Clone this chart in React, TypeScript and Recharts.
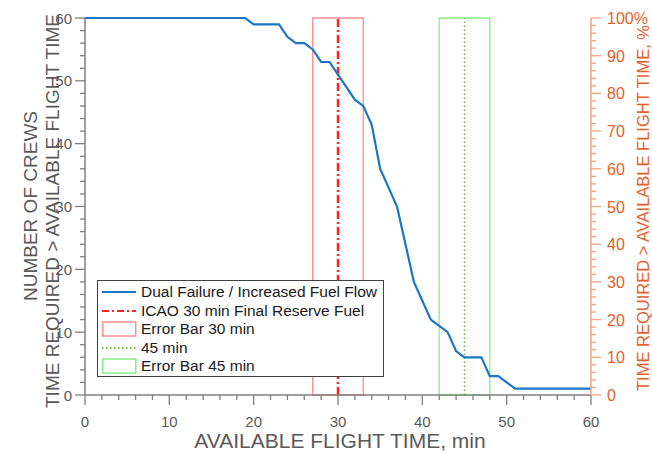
import { ComposedChart, Line, XAxis, YAxis, ReferenceLine, ReferenceArea, Legend } from 'recharts';

const FONT = '"Liberation Sans", Arial, sans-serif';
const TEXT = '#595959';
const AXIS = '#7f7f7f';
const ORANGE = '#e3612a';
const ORANGE_AXIS = '#f2a27e';
const BLUE = '#1c75c6';
const RED = '#ff2222';
const RED_BOX = '#ff8f8f';
const GREEN_DOT = '#78b83a';
const GREEN_BOX = '#86f086';

// available flight time, min
const minutes = [
  0, 1, 2, 3, 4, 5, 6, 7, 8, 9, 10, 11, 12, 13, 14, 15, 16, 17, 18, 19, 20,
  21, 22, 23, 24, 25, 26, 27, 28, 29, 30, 31, 32, 33, 34, 35, 36, 37, 38, 39, 40,
  41, 42, 43, 44, 45, 46, 47, 48, 49, 50, 51, 52, 53, 54, 55, 56, 57, 58, 59, 60,
];
// number of crews with time required > available
const crews = [
  60, 60, 60, 60, 60, 60, 60, 60, 60, 60, 60, 60, 60, 60, 60, 60, 60, 60, 60, 60, 59,
  59, 59, 59, 57, 56, 56, 55, 53, 53, 51, 49, 47, 46, 43, 36, 33, 30, 24, 18, 15,
  12, 11, 10, 7, 6, 6, 6, 3, 3, 2, 1, 1, 1, 1, 1, 1, 1, 1, 1, 1,
];

const xMajor = [0, 10, 20, 30, 40, 50, 60];
const leftMajor = [0, 10, 20, 30, 40, 50, 60];
const rightMajor = [0, 10, 20, 30, 40, 50, 60, 70, 80, 90, 100];
const xTicks = Array.from({ length: 31 }, (_, i) => i * 2);
const leftTicks = Array.from({ length: 31 }, (_, i) => i * 2);
const rightTicks = Array.from({ length: 51 }, (_, i) => i * 2);

const legendItems = [
  { name: 'Dual Failure / Increased Fuel Flow', kind: 'line', color: BLUE, dash: '' },
  { name: 'ICAO 30 min Final Reserve Fuel', kind: 'line', color: RED, dash: '7 3 2 3' },
  { name: 'Error Bar 30 min', kind: 'box', color: RED_BOX, dash: '' },
  { name: '45 min', kind: 'line', color: GREEN_DOT, dash: '1.5 2.5' },
  { name: 'Error Bar 45 min', kind: 'box', color: GREEN_BOX, dash: '' },
];

const data = minutes.map((m, i) => ({ m, crews: crews[i] }));

function BottomTick({ x, y, payload }: any) {
  const major = xMajor.includes(payload.value);
  return (
    <g>
      <line x1={x} x2={x} y1={y} y2={y + (major ? 10 : 5)} stroke={AXIS} strokeWidth={1.3} />
      {major && (
        <text x={x} y={y + 32} textAnchor="middle" fontSize={15} fill={TEXT} fontFamily={FONT}>
          {payload.value}
        </text>
      )}
    </g>
  );
}

function LeftTick({ x, y, payload }: any) {
  const major = leftMajor.includes(payload.value);
  return (
    <g>
      <line x1={x - (major ? 10 : 5)} x2={x} y1={y} y2={y} stroke={AXIS} strokeWidth={1.3} />
      {major && (
        <text x={x - 13} y={y + 5.5} textAnchor="end" fontSize={15} fill={TEXT} fontFamily={FONT}>
          {payload.value}
        </text>
      )}
    </g>
  );
}

function RightTick({ x, y, payload }: any) {
  const major = rightMajor.includes(payload.value);
  return (
    <g>
      <line x1={x} x2={x + (major ? 10 : 5)} y1={y} y2={y} stroke={ORANGE_AXIS} strokeWidth={1.3} />
      {major && (
        <text x={x + 16} y={y + 6} textAnchor="start" fontSize={16} fill={ORANGE} fontFamily={FONT}>
          {payload.value === 100 ? '100%' : payload.value}
        </text>
      )}
    </g>
  );
}

function LeftTitle() {
  return (
    <g fontFamily={FONT} fill={TEXT} fontSize={19}>
      <text transform="translate(37,206) rotate(-90)" textAnchor="middle">NUMBER OF CREWS</text>
      <text transform="translate(59,211) rotate(-90)" textAnchor="middle">
        TIME REQUIRED &gt; AVAILABLE FLIGHT TIME
      </text>
    </g>
  );
}

function RightTitle() {
  return (
    <text
      transform="translate(649,208) rotate(-90)"
      textAnchor="middle"
      fontFamily={FONT}
      fontSize={16.5}
      fill={ORANGE}
    >
      TIME REQUIRED &gt; AVAILABLE FLIGHT TIME, %
    </text>
  );
}

function BottomTitle() {
  return (
    <text x={340} y={448} textAnchor="middle" fontFamily={FONT} fontSize={21} fill={TEXT}>
      AVAILABLE FLIGHT TIME, min
    </text>
  );
}

function LegendBox() {
  return (
    <div
      style={{
        border: '1px solid #404040',
        background: '#fff',
        padding: '2px 0 1px 4px',
        fontFamily: FONT,
        fontSize: 15.5,
        color: '#1a1a1a',
        boxSizing: 'border-box',
        width: 287,
        height: 97,
      }}
    >
      {legendItems.map((it) => (
        <div key={it.name} style={{ display: 'flex', alignItems: 'center', height: 18.5, whiteSpace: 'nowrap' }}>
          <svg width={35} height={16} style={{ marginRight: 4, flexShrink: 0 }}>
            {it.kind === 'line' ? (
              <line
                x1={0}
                x2={34}
                y1={8}
                y2={8}
                stroke={it.color}
                strokeWidth={2}
                strokeDasharray={it.dash || undefined}
              />
            ) : (
              <rect x={0.75} y={1} width={33} height={14} fill="none" stroke={it.color} strokeWidth={1.5} />
            )}
          </svg>
          <span>{it.name}</span>
        </div>
      ))}
    </div>
  );
}

export default function App() {
  return (
    <div style={{ position: 'absolute', left: 0, top: 0, width: 652, height: 454, background: '#fff' }}>
      <ComposedChart width={652} height={454} data={data} margin={{ top: 18, right: 0, bottom: 0, left: 0 }}>
        <XAxis
          dataKey="m"
          type="number"
          domain={[0, 60]}
          ticks={xTicks}
          interval={0}
          height={59}
          tickSize={0}
          tickMargin={0}
          tickLine={false}
          axisLine={{ stroke: AXIS, strokeWidth: 1.5 }}
          tick={(p: any) => <BottomTick {...p} />}
          label={<BottomTitle />}
        />
        <YAxis
          yAxisId="left"
          type="number"
          domain={[0, 60]}
          ticks={leftTicks}
          interval={0}
          width={85}
          tickSize={0}
          tickMargin={0}
          tickLine={false}
          axisLine={{ stroke: AXIS, strokeWidth: 1.5 }}
          tick={(p: any) => <LeftTick {...p} />}
          label={<LeftTitle />}
        />
        <YAxis
          yAxisId="right"
          type="number"
          orientation="right"
          domain={[0, 100]}
          ticks={rightTicks}
          interval={0}
          width={61}
          tickSize={0}
          tickMargin={0}
          tickLine={false}
          axisLine={{ stroke: ORANGE_AXIS, strokeWidth: 1.5 }}
          tick={(p: any) => <RightTick {...p} />}
          label={<RightTitle />}
        />
        <ReferenceArea yAxisId="left" x1={27} x2={33} y1={0} y2={60} fill="none" stroke={RED_BOX} strokeWidth={1.3} ifOverflow="visible" />
        <ReferenceArea yAxisId="left" x1={42} x2={48} y1={0} y2={60} fill="none" stroke={GREEN_BOX} strokeWidth={1.3} ifOverflow="visible" />
        <ReferenceLine yAxisId="left" x={30} stroke={RED} strokeWidth={2.5} strokeDasharray="8 3 2 3" />
        <ReferenceLine yAxisId="left" x={45} stroke={GREEN_DOT} strokeWidth={1.6} strokeDasharray="1.5 2.5" />
        {/* invisible series so the right (percent) axis gets its ticks */}
        <Line
          yAxisId="right"
          type="linear"
          dataKey="crews"
          stroke="transparent"
          dot={false}
          activeDot={false}
          legendType="none"
          isAnimationActive={false}
        />
        <Line
          yAxisId="left"
          type="linear"
          dataKey="crews"
          stroke={BLUE}
          strokeWidth={2.2}
          dot={false}
          isAnimationActive={false}
        />
        <Legend
          layout="horizontal"
          verticalAlign="middle"
          align="center"
          content={<LegendBox />}
          wrapperStyle={{ left: 97, top: 280, width: 287, height: 97 }}
        />
      </ComposedChart>
    </div>
  );
}
